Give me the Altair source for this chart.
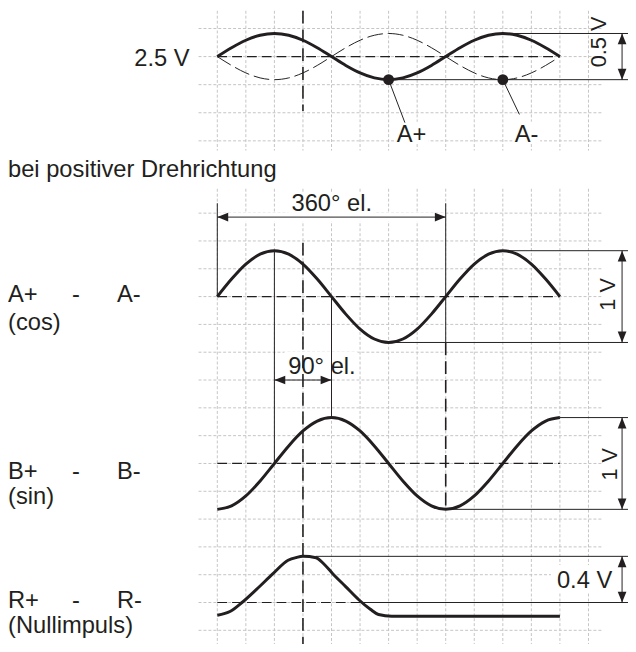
import altair as alt
import pandas as pd

# ---------------- values ----------------
# electrical angle (degrees); one grid column = 45 deg el.
angle_deg = [0, 22.5, 45, 67.5, 90, 112.5, 135, 157.5, 180, 202.5, 225, 247.5, 270,
             292.5, 315, 337.5, 360, 382.5, 405, 427.5, 450, 472.5, 495, 517.5, 540]
# single-ended track signals around 2.5 V (0.5 V peak-to-peak)
top_a_plus_v = [2.5, 2.596, 2.677, 2.731, 2.75, 2.731, 2.677, 2.596, 2.5, 2.404, 2.323, 2.269, 2.25,
                2.269, 2.323, 2.404, 2.5, 2.596, 2.677, 2.731, 2.75, 2.731, 2.677, 2.596, 2.5]
top_a_minus_v = [2.5, 2.404, 2.323, 2.269, 2.25, 2.269, 2.323, 2.404, 2.5, 2.596, 2.677, 2.731, 2.75,
                 2.731, 2.677, 2.596, 2.5, 2.404, 2.323, 2.269, 2.25, 2.269, 2.323, 2.404, 2.5]
# differential signals (1 V peak-to-peak)
a_diff_v = [0, 0.191, 0.354, 0.462, 0.5, 0.462, 0.354, 0.191, 0, -0.191, -0.354, -0.462, -0.5,
            -0.462, -0.354, -0.191, 0, 0.191, 0.354, 0.462, 0.5, 0.462, 0.354, 0.191, 0]
b_diff_v = [-0.5, -0.462, -0.354, -0.191, 0, 0.191, 0.354, 0.462, 0.5, 0.462, 0.354, 0.191, 0,
            -0.191, -0.354, -0.462, -0.5, -0.462, -0.354, -0.191, 0, 0.191, 0.354, 0.462, 0.5]
# reference pulse (0.4 V)
r_angle_deg = [0, 20.7, 38.9, 62.2, 88.2, 111.6, 124.5, 135, 155.7, 168, 181.6, 202.3, 223,
               241.2, 254.1, 275, 540]
r_diff_v = [-0.110, -0.076, 0.0, 0.116, 0.252, 0.366, 0.39, 0.40, 0.388, 0.334, 0.252, 0.138,
            0.024, -0.059, -0.104, -0.119, -0.119]

grid_cols_deg = [45 * k for k in range(14)]
top_grid_rows = [-6.64, -5.63, -4.62, -3.61, -2.60]
main_grid_rows = list(range(16))

# ---------------- layout ----------------
X0_PX, COL_PX, DEG_PER_COL = 220, 28.92, 45
ROW0_PX, ROW_PX = 211.7, 28.17
W, H = 628, 636


def dx(px):
    return (px - X0_PX) / COL_PX * DEG_PER_COL


def ry(py):
    return (py - ROW0_PX) / ROW_PX


# panel: (centre voltage, centre row, rows per volt)
PANELS = {"top": (2.5, -5.63, 3.32), "A": (0.0, 3.0, 3.3), "B": (0.0, 9.0, 3.3), "R": (0.0, 14.0, 4.15)}


def vrow(panel, v):
    c, r, g = PANELS[panel]
    return r - (v - c) * g


XS = alt.Scale(domain=[dx(8), dx(8 + W)], nice=False, zero=False)
YS = alt.Scale(domain=[ry(8), ry(8 + H)], reverse=True, nice=False, zero=False)
INK = "#231f20"
FONT = "Liberation Sans"


def enc_seg():
    return dict(x=alt.X("x:Q", scale=XS, axis=None), y=alt.Y("y:Q", scale=YS, axis=None),
                x2="x2:Q", y2="y2:Q")


def seg_df(segs):
    return pd.DataFrame(segs, columns=["x", "y", "x2", "y2"])


# grid
grid = []
for c in grid_cols_deg:
    grid.append((c, ry(6.7), c, ry(148.3)))
    grid.append((c, ry(187), c, ry(652)))
for r in top_grid_rows + main_grid_rows:
    grid.append((dx(201), r, dx(610), r))
grid_layer = alt.Chart(seg_df(grid)).mark_rule(color="#c4c4c4", strokeWidth=1, strokeDash=[3, 2]).encode(**enc_seg())

# white boxes behind labels
boxes = [(dx(292), ry(191), dx(380), ry(212)), (dx(288), ry(352), dx(362), ry(377)),
         (dx(558), ry(568), dx(621), ry(596)), (dx(400), ry(119), dx(434), ry(141)),
         (dx(519), ry(119), dx(547), ry(141))]
box_layer = alt.Chart(seg_df(boxes)).mark_rect(color="white").encode(**enc_seg())

arrow360_row = ry(215.7)
halo_layer = alt.Chart(seg_df([(0, arrow360_row, 360, arrow360_row)])).mark_rule(
    color="white", strokeWidth=9).encode(**enc_seg())

# centre dashed lines
centre = [(0, vrow("top", 2.5), 540, vrow("top", 2.5)), (0, 3.0, 540, 3.0), (0, 9.0, 540, 9.0),
          (0, 14.0, 228, 14.0)]
centre_layer = alt.Chart(seg_df(centre)).mark_rule(color=INK, strokeWidth=1.2, strokeDash=[10, 5]).encode(**enc_seg())

# vertical long-dash lines
a_pk, a_tr = vrow("A", 0.5), vrow("A", -0.5)
b_pk, b_tr = vrow("B", 0.5), vrow("B", -0.5)
r_pk, r_base = vrow("R", 0.4), vrow("R", 0.0)
t_pk, t_tr = vrow("top", 2.75), vrow("top", 2.25)
vdash = [(135, ry(6.7), 135, ry(108.3)), (135, ry(241.7), 135, ry(652)), (360, a_tr, 360, b_tr)]
vdash_layer = alt.Chart(seg_df(vdash)).mark_rule(color=INK, strokeWidth=1.6, strokeDash=[13, 6]).encode(**enc_seg())

# thin solid lines
xr, xa = dx(636), dx(630)
thin = [
    (450, t_pk, xr, t_pk), (270, t_tr, xr, t_tr),
    (270, t_tr, dx(410), ry(120)), (450, t_tr, dx(526), ry(111.7)),
    (xa, t_pk, xa, t_tr),
    (0, ry(201.7), 0, 3.0), (360, ry(201.7), 360, a_tr), (0, arrow360_row, 360, arrow360_row),
    (450, a_pk, xr, a_pk), (270, a_tr, xr, a_tr), (xa, a_pk, xa, a_tr),
    (90, a_pk, 90, 9.0), (180, 3.0, 180, b_pk), (90, 6.0, 180, 6.0),
    (540, b_pk, xr, b_pk), (360, b_tr, xr, b_tr), (xa, b_pk, xa, b_tr),
    (155, r_pk, xr, r_pk), (228, r_base, xr, r_base), (xa, r_pk, xa, r_base),
]
thin_layer = alt.Chart(seg_df(thin)).mark_rule(color=INK, strokeWidth=1).encode(**enc_seg())

# curves
rows = []
for d, v in zip(angle_deg, top_a_plus_v):
    rows.append(("top A+", d, vrow("top", v)))
for d, v in zip(angle_deg, a_diff_v):
    rows.append(("A", d, vrow("A", v)))
for d, v in zip(angle_deg, b_diff_v):
    rows.append(("B", d, vrow("B", v)))
for d, v in zip(r_angle_deg, r_diff_v):
    rows.append(("R", d, vrow("R", v)))
thick_df = pd.DataFrame(rows, columns=["series", "deg", "row"])
thin_df = pd.DataFrame({"series": "top A-", "deg": angle_deg,
                        "row": [vrow("top", v) for v in top_a_minus_v]})

curve_enc = dict(x=alt.X("deg:Q", scale=XS, axis=None), y=alt.Y("row:Q", scale=YS, axis=None),
                 detail="series:N")
thick_layer = alt.Chart(thick_df).mark_line(color=INK, strokeWidth=3, interpolate="monotone").encode(**curve_enc)
dashcurve_layer = alt.Chart(thin_df).mark_line(color=INK, strokeWidth=1, strokeDash=[16, 5],
                                              interpolate="monotone").encode(**curve_enc)

dots_df = pd.DataFrame({"deg": [270, 450], "row": [t_tr, t_tr]})
dots_layer = alt.Chart(dots_df).mark_circle(color=INK, opacity=1, size=120).encode(
    x=alt.X("deg:Q", scale=XS, axis=None), y=alt.Y("row:Q", scale=YS, axis=None))

# arrow heads
heads = [(xa, t_pk, "up"), (xa, t_tr, "down"), (xa, a_pk, "up"), (xa, a_tr, "down"),
         (xa, b_pk, "up"), (xa, b_tr, "down"), (xa, r_pk, "up"), (xa, r_base, "down"),
         (0, arrow360_row, "left"), (360, arrow360_row, "right"), (90, 6.0, "left"), (180, 6.0, "right")]
heads_df = pd.DataFrame(heads, columns=["x", "y", "dir"])
head_paths = {"up": "M0,0L-0.4,1L0.4,1Z", "down": "M0,0L-0.4,-1L0.4,-1Z",
              "left": "M0,0L1,-0.4L1,0.4Z", "right": "M0,0L-1,-0.4L-1,0.4Z"}
heads_layer = alt.Chart(heads_df).mark_point(filled=True, opacity=1, strokeWidth=0, size=484, color=INK).encode(
    x=alt.X("x:Q", scale=XS, axis=None), y=alt.Y("y:Q", scale=YS, axis=None),
    shape=alt.Shape("dir:N", scale=alt.Scale(domain=list(head_paths), range=list(head_paths.values())),
                    legend=None))

# texts
def txt_df(items):
    return pd.DataFrame([(t, dx(px), ry(py)) for t, px, py in items], columns=["t", "x", "y"])


txt_enc = dict(x=alt.X("x:Q", scale=XS, axis=None), y=alt.Y("y:Q", scale=YS, axis=None), text="t:N")
left_txt = [("bei positiver Drehrichtung", 8, 175),
            ("A+", 8, 302), ("A-", 118.3, 302), ("(cos)", 8, 330),
            ("B+", 8, 481), ("B-", 118.3, 481), ("(sin)", 8, 506),
            ("R+", 8, 612), ("R-", 118.3, 612), ("(Nullimpuls)", 8, 637)]
centre_txt = [("-", 76.7, 302), ("-", 76.7, 481), ("-", 76.7, 612),
              ("A+", 416.7, 140), ("A-", 533.3, 140),
              ("360° el.", 336, 209.3), ("90° el.", 326, 375), ("0.4 V", 592, 591.7)]
right_txt = [("2.5 V", 192, 62.3)]
rot_txt = [("0.5 V", 613.3, 38.3), ("1 V", 623.3, 294), ("1 V", 625, 466)]

t1 = alt.Chart(txt_df(left_txt)).mark_text(align="left", baseline="alphabetic", fontSize=24, font=FONT,
                                           color=INK).encode(**txt_enc)
t2 = alt.Chart(txt_df(centre_txt)).mark_text(align="center", baseline="alphabetic", fontSize=24, font=FONT,
                                             color=INK).encode(**txt_enc)
t3 = alt.Chart(txt_df(right_txt)).mark_text(align="right", baseline="alphabetic", fontSize=24, font=FONT,
                                            color=INK).encode(**txt_enc)
t4 = alt.Chart(txt_df(rot_txt)).mark_text(align="center", baseline="alphabetic", fontSize=22, font=FONT,
                                          angle=270, color=INK).encode(**txt_enc)

chart = alt.layer(grid_layer, box_layer, halo_layer, centre_layer, vdash_layer, thin_layer,
                  dashcurve_layer, thick_layer, dots_layer, heads_layer, t1, t2, t3, t4).properties(
    width=W, height=H, padding=0, autosize=alt.AutoSizeParams(type="none"), background="white"
).configure_view(stroke=None)

chart.save("out.html", embed_options={"renderer": "svg", "actions": False})
